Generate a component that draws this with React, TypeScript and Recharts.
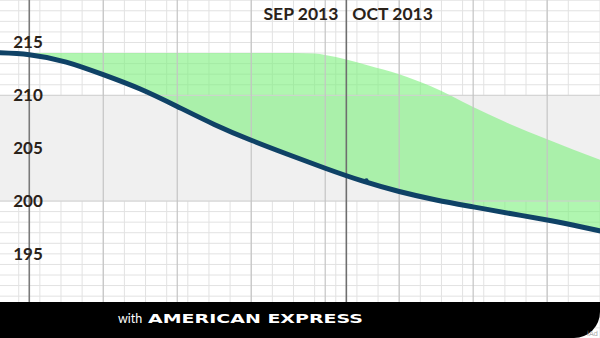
import React from "react";
import {
  ComposedChart,
  Line,
  Area,
  XAxis,
  YAxis,
  CartesianGrid,
  ReferenceLine,
  ReferenceArea,
  ReferenceDot,
} from "recharts";

// Days since 1 Sep 2013 (every half week)
const lineDays = [-3.5, 0, 3.5, 7, 10.5, 14, 17.5, 21, 24.5, 28, 31.5, 35, 38.5, 42, 45.5, 49, 52.5, 56];
// Dark curve (lower edge of the green band)
const lineValues = [214.05, 213.85, 213.15, 211.96, 210.6, 208.95, 207.25, 205.75, 204.4, 203.1, 201.9, 200.9, 200.1, 199.45, 198.82, 198.2, 197.5, 196.75];
// Upper edge of the green band
const bandDays = [0, 7, 14, 21, 25, 27, 28, 30, 32, 35, 38, 42, 45, 49, 54];
const upperValues = [214, 214, 214, 214, 214, 213.95, 213.82, 213.4, 212.85, 212.0, 210.85, 208.9, 207.5, 205.84, 203.9];

const yTicks = [195, 200, 205, 210, 215];
const monthLabels = ["SEP 2013", "OCT 2013"];
const monthBoundaryDay = 30;
const weekDays = [7, 14, 21, 28, 35, 42, 49];
const minorDays = Array.from({ length: 57 }, (_, i) => i - 2);
const minorValues = Array.from({ length: 33 }, (_, i) => 187 + i);
const bandRange = [200, 210];
const markerDay = 31.9;
const markerValue = 201.95;

// lower edge of the band follows the dark curve
function lowerAt(d: number): number {
  for (let i = 0; i < lineDays.length - 1; i++) {
    if (d >= lineDays[i] && d <= lineDays[i + 1]) {
      const t = (d - lineDays[i]) / (lineDays[i + 1] - lineDays[i]);
      return lineValues[i] + t * (lineValues[i + 1] - lineValues[i]);
    }
  }
  return lineValues[lineValues.length - 1];
}

const lineData = lineDays.map((d, i) => ({ day: d, value: lineValues[i] }));
const bandData = bandDays.map((d, i) => ({ day: d, band: [lowerAt(d) + 0.05, upperValues[i]] }));

const TEXT = "#2a2219";
const NAVY = "#0f4266";

const renderYTick = (props: any) => {
  const { y, payload } = props;
  return (
    <text
      x={28}
      y={y + 6}
      textAnchor="middle"
      fill={TEXT}
      fontFamily="Lato"
      fontWeight={700}
      fontSize={17}
    >
      {payload.value}
    </text>
  );
};

const MonthLabel = (props: any) => {
  const { viewBox } = props;
  const x = viewBox.x;
  return (
    <g>
      <text x={x - 8} y={20} textAnchor="end" fill={TEXT} fontFamily="Lato" fontWeight={700} fontSize={17.5}>
        {monthLabels[0]}
      </text>
      <text x={x + 6} y={20} textAnchor="start" fill={TEXT} fontFamily="Lato" fontWeight={700} fontSize={17.5}>
        {monthLabels[1]}
      </text>
    </g>
  );
};

export default function App() {
  return (
    <div
      style={{
        position: "fixed",
        left: 0,
        top: 0,
        width: 600,
        height: 338,
        overflow: "hidden",
        background: "#fff",
      }}
    >
      <ComposedChart
        width={600}
        height={338}
        margin={{ top: 0, right: 0, bottom: 0, left: 0 }}
      >
        <ReferenceArea
          y1={bandRange[0]}
          y2={bandRange[1]}
          fill="#f0f0f0"
          fillOpacity={1}
          stroke="none"
          ifOverflow="visible"
        />
        <CartesianGrid
          verticalValues={minorDays}
          horizontalValues={minorValues}
          stroke="#e2e2e2"
          strokeWidth={1}
        />
        <XAxis
          dataKey="day"
          type="number"
          domain={[-2.77, 54.0]}
          allowDataOverflow
          hide
        />
        <YAxis
          type="number"
          domain={[187.04, 219.02]}
          allowDataOverflow
          ticks={yTicks}
          width={60}
          mirror
          axisLine={false}
          tickLine={false}
          tick={renderYTick}
          interval={0}
        />
        {bandRange.map((v) => (
          <ReferenceLine key={"h" + v} y={v} stroke="#d0d0d0" strokeWidth={1} />
        ))}
        {weekDays.map((d) => (
          <ReferenceLine key={"w" + d} x={d} stroke="#c4c4c4" strokeWidth={1.2} />
        ))}
        <Area
          data={bandData}
          dataKey="band"
          type="monotone"
          fill="#7cf07c"
          fillOpacity={0.6}
          stroke="none"
          isAnimationActive={false}
        />
        <ReferenceLine x={0} stroke="#7a7a7a" strokeWidth={1.6} />
        <ReferenceLine
          x={monthBoundaryDay}
          stroke="#6e6e6e"
          strokeWidth={1.6}
          label={<MonthLabel />}
        />
        <Line
          data={lineData}
          dataKey="value"
          type="natural"
          stroke={NAVY}
          strokeWidth={5}
          dot={false}
          activeDot={false}
          isAnimationActive={false}
        />
        <ReferenceDot x={markerDay} y={markerValue} r={2.2} fill={NAVY} stroke="none" />
      </ComposedChart>
      <svg
        width={600}
        height={36}
        style={{ position: "absolute", left: 0, top: 302 }}
      >
        <path d="M0 0 H600 V10 A26 26 0 0 1 574 36 H0 Z" fill="#000" />
        <text x={118} y={21} fill="#fff" fontFamily="Lato" fontSize={12.5}>
          with
        </text>
        <text
          x={148}
          y={21}
          fill="#fff"
          fontFamily="DejaVu Sans"
          fontWeight={700}
          fontSize={12}
          textLength={215}
          lengthAdjust="spacingAndGlyphs"
        >
          AMERICAN EXPRESS
        </text>
        <text x={598} y={34} textAnchor="end" fill="#aaa" fontFamily="DejaVu Sans" fontSize={7}>
          iAd
        </text>
      </svg>
    </div>
  );
}
